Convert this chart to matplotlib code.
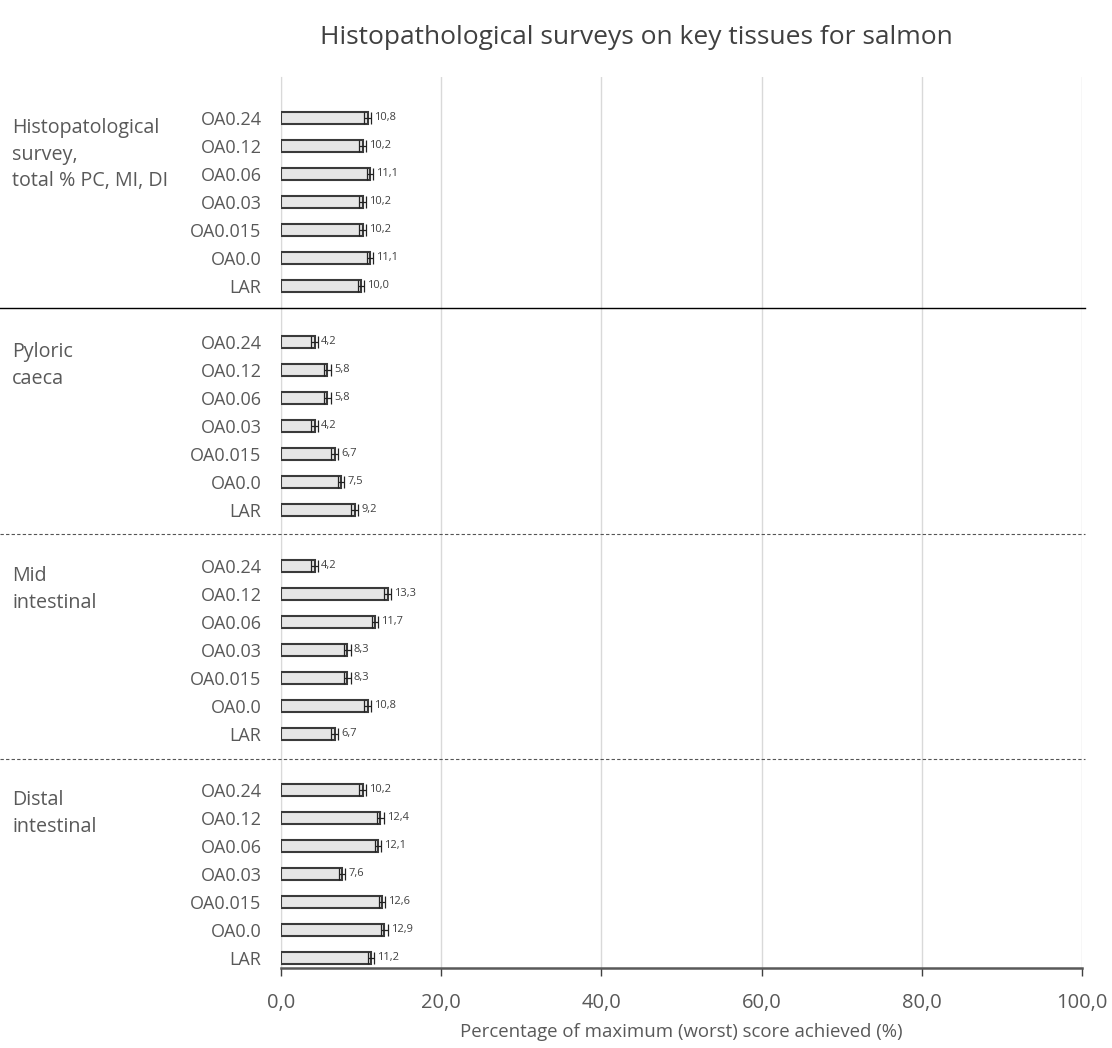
import numpy as np
import matplotlib
matplotlib.use('Agg')
import matplotlib.pyplot as plt
import matplotlib.transforms as mtransforms

plt.rcParams['font.family'] = ['Open Sans', 'DejaVu Sans']

# data ---------------------------------------------------------------------------------------------------------------
groups = [['Histopatological', 'survey,', 'total % PC, MI, DI'], ['Pyloric', 'caeca'],
          ['Mid', 'intestinal'], ['Distal', 'intestinal']]
treatments = ['OA0.24', 'OA0.12', 'OA0.06', 'OA0.03', 'OA0.015', 'OA0.0', 'LAR']

total_vals = [10.8, 10.2, 11.1, 10.2, 10.2, 11.1, 10.0]
pyloric_vals = [4.2, 5.8, 5.8, 4.2, 6.7, 7.5, 9.2]
mid_vals = [4.2, 13.3, 11.7, 8.3, 8.3, 10.8, 6.7]
distal_vals = [10.2, 12.4, 12.1, 7.6, 12.6, 12.9, 11.2]

total_err = [0.4, 0.4, 0.4, 0.4, 0.4, 0.4, 0.4]
pyloric_err = [0.4, 0.4, 0.4, 0.4, 0.4, 0.4, 0.4]
mid_err = [0.4, 0.4, 0.4, 0.4, 0.4, 0.4, 0.4]
distal_err = [0.4, 0.4, 0.4, 0.4, 0.4, 0.4, 0.4]

xticks = [0, 20, 40, 60, 80, 100]

all_vals = [total_vals, pyloric_vals, mid_vals, distal_vals]
all_errs = [total_err, pyloric_err, mid_err, distal_err]

GRAY_TXT = '#595959'

fig = plt.figure(figsize=(11.12, 10.48), dpi=100)
ax = fig.add_axes([281 / 1112, 1 - 968 / 1048, 801 / 1112, (968 - 77) / 1048])
trans = mtransforms.blended_transform_factory(fig.transFigure, ax.transData)

# each group takes 7 slots + 1 blank slot
ypos, labels = [], []
for g, (vals, errs) in enumerate(zip(all_vals, all_errs)):
    y = [g * 8 + i for i in range(len(treatments))]
    ax.barh(y, vals, height=0.43, color='#e6e6e6', edgecolor='#3a3a3a', linewidth=1.5, zorder=3)
    ax.errorbar(vals, y, xerr=errs, fmt='none', ecolor='#222222', elinewidth=0.9, capsize=4, capthick=0.9, zorder=4)
    for v, e, yy in zip(vals, errs, y):
        ax.text(v + e + 0.4, yy, f'{v:.1f}'.replace('.', ','), fontsize=8, color='#404040',
                va='center', ha='left', zorder=5)
    ypos += y
    labels += treatments

    # group name, one line at a time
    for k, line in enumerate(groups[g]):
        ax.text(12 / 1112, g * 8 + 0.38 + 0.95 * k, line, transform=trans, fontsize=14.2, color=GRAY_TXT,
                va='center', ha='left')

# separators between groups
sep_y = [6.8, 14.85, 22.9]
for i, sy in enumerate(sep_y):
    ax.axhline(sy, xmin=-0.351, xmax=1.004, color='black' if i == 0 else '#555555',
               linewidth=1.0 if i == 0 else 0.8, linestyle='-' if i == 0 else (0, (3, 2)), clip_on=False, zorder=6)

ax.set_ylim(30.36, -1.45)
ax.set_xlim(0, 100)
ax.set_yticks(ypos)
ax.set_yticklabels(labels, fontsize=13, color=GRAY_TXT)
ax.tick_params(axis='y', length=0, pad=14)

ax.set_xticks(xticks)
ax.set_xticklabels([f'{t:.1f}'.replace('.', ',') for t in xticks], fontsize=14.5, color=GRAY_TXT)
ax.tick_params(axis='x', direction='out', length=6, width=1.0, color='#404040', pad=12)
ax.xaxis.grid(True, color='#d9d9d9', linewidth=1.0, zorder=0)
ax.set_axisbelow(True)

for s in ['top', 'right']:
    ax.spines[s].set_visible(False)
ax.spines['left'].set_color('#d9d9d9')
ax.spines['bottom'].set_color('#595959')
ax.spines['bottom'].set_linewidth(1.8)

ax.set_xlabel('Percentage of maximum (worst) score achieved (%)', fontsize=13.4, color=GRAY_TXT, labelpad=7)
fig.text(636 / 1112, 1 - 38 / 1048, 'Histopathological surveys on key tissues for salmon', fontsize=19,
         color='#404040', ha='center', va='center')

fig.savefig('out.png', dpi=100)
